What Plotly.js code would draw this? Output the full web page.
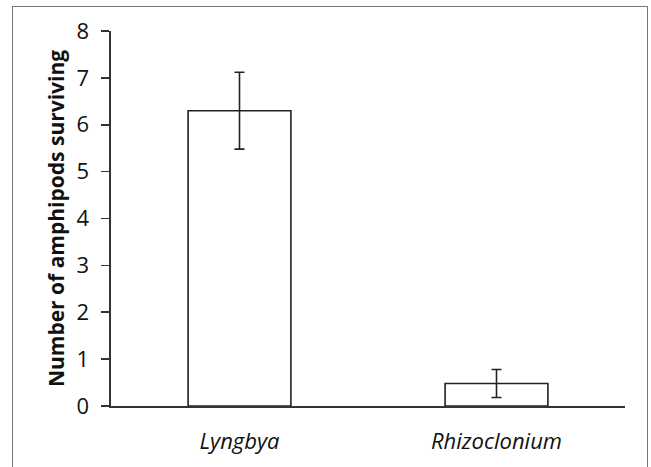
<!DOCTYPE html>
<html>
<head>
<meta charset="utf-8">
<script src="https://cdn.plot.ly/plotly-3.0.1.min.js"></script>
<style>
  html, body { margin: 0; padding: 0; background: #fff; }
  #wrap { position: relative; width: 651px; height: 467px; overflow: hidden; }
  #chart { position: absolute; left: 0; top: 0; width: 651px; height: 467px; }
  #frame { position: absolute; left: 12px; top: 6px; width: 636px; height: 470px;
           border: 1.5px solid #777; pointer-events: none; box-sizing: border-box; }
</style>
</head>
<body>
<div id="wrap">
  <div id="chart"></div>
  <div id="frame"></div>
</div>
<script>
const categories = ["Lyngbya", "Rhizoclonium"];
const meanSurviving = [6.3, 0.48];
const errorSurviving = [0.82, 0.30];
const yTickValues = [0, 1, 2, 3, 4, 5, 6, 7, 8];
const yTickLabels = ["0", "1", "2", "3", "4", "5", "6", "7", "8"];
const xTickLabels = ["<i>Lyngbya</i>", "<i>Rhizoclonium</i>"];

const trace = {
  type: "bar",
  x: categories,
  y: meanSurviving,
  width: 0.4,
  marker: { color: "#ffffff", line: { color: "#222222", width: 1.6 } },
  error_y: { type: "data", array: errorSurviving, visible: true, color: "#222222", thickness: 1.6, width: 5 },
  hoverinfo: "none"
};

const layout = {
  width: 651, height: 467,
  margin: { l: 111, r: 26, t: 31, b: 61, pad: 0 },
  paper_bgcolor: "#ffffff", plot_bgcolor: "#ffffff",
  showlegend: false,
  font: { family: "Open Sans, sans-serif", color: "#111111" },
  xaxis: {
    type: "category",
    range: [-0.5, 1.5],
    tickvals: categories,
    ticktext: xTickLabels,
    showline: true, linecolor: "#333333", linewidth: 1.6,
    ticks: "", showgrid: false, zeroline: false,
    tickfont: { family: "Open Sans, sans-serif", size: 22, color: "#111111" },
    ticklabelstandoff: 15,
    fixedrange: true
  },
  yaxis: {
    range: [0, 8],
    tickvals: yTickValues,
    ticktext: yTickLabels,
    showline: true, linecolor: "#333333", linewidth: 1.6,
    ticks: "outside", ticklen: 8, tickwidth: 1.6, tickcolor: "#333333",
    showgrid: false, zeroline: false,
    tickfont: { family: "Open Sans, sans-serif", size: 22, color: "#111111" },
    ticklabelstandoff: 8,
    title: { text: "<b>Number of amphipods surviving</b>", font: { family: "Open Sans, sans-serif", size: 21, color: "#111111" }, standoff: 6 },
    fixedrange: true
  }
};

Plotly.newPlot("chart", [trace], layout, { displayModeBar: false, staticPlot: true });
</script>
</body>
</html>
